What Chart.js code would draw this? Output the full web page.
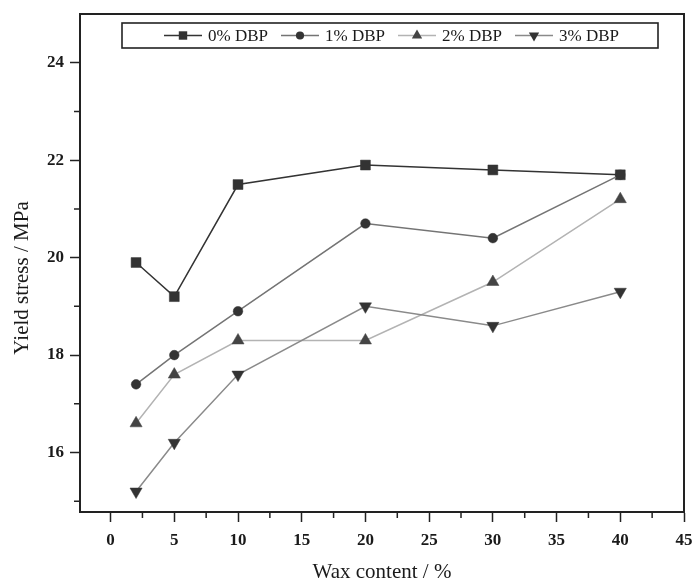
<!DOCTYPE html>
<html>
<head>
<meta charset="utf-8">
<script src="https://cdn.jsdelivr.net/npm/chart.js@4.4.1/dist/chart.umd.min.js"></script>
<style>
  html, body { margin: 0; padding: 0; background: #ffffff; }
  #wrap { width: 697px; height: 583px; }
</style>
</head>
<body>
<div id="wrap"><canvas id="c" width="697" height="583"></canvas></div>
<script>
// Wax content (%) on the x axis
const waxContent = [2, 5, 10, 20, 30, 40];

// Yield stress (MPa) for each DBP loading
const dbp0 = [19.9, 19.2, 21.5, 21.9, 21.8, 21.7];
const dbp1 = [17.4, 18.0, 18.9, 20.7, 20.4, 21.7];
const dbp2 = [16.6, 17.6, 18.3, 18.3, 19.5, 21.2];
const dbp3 = [15.2, 16.2, 17.6, 19.0, 18.6, 19.3];

const seriesLabels = ['0% DBP', '1% DBP', '2% DBP', '3% DBP'];

// Axis ticks
const xTicks = [0, 5, 10, 15, 20, 25, 30, 35, 40, 45];
const xMinorTicks = [2.5, 7.5, 12.5, 17.5, 22.5, 27.5, 32.5, 37.5, 42.5];
const yTicks = [16, 18, 20, 22, 24];
const yMinorTicks = [15, 17, 19, 21, 23];

const xTitle = 'Wax content / %';
const yTitle = 'Yield stress / MPa';

const AXIS = '#222222';
const TEXT = '#1a1a1a';
const SERIF = "'Liberation Serif', 'DejaVu Serif', serif";

const styles = [
  { line: '#333333', marker: '#333333', shape: 'rect',     radius: 7.0, rotation: 0 },
  { line: '#747474', marker: '#333333', shape: 'circle',   radius: 4.8, rotation: 0 },
  { line: '#b3b3b3', marker: '#444444', shape: 'triangle', radius: 7.0, rotation: 0 },
  { line: '#8a8a8a', marker: '#333333', shape: 'triangle', radius: 7.0, rotation: 180 }
];

const seriesValues = [dbp0, dbp1, dbp2, dbp3];

const datasets = seriesValues.map((vals, i) => ({
  label: seriesLabels[i],
  data: waxContent.map((x, j) => ({ x: x, y: vals[j] })),
  borderColor: styles[i].line,
  borderWidth: 1.5,
  backgroundColor: styles[i].marker,
  pointBackgroundColor: styles[i].marker,
  pointBorderColor: styles[i].marker,
  pointBorderWidth: 0.5,
  pointStyle: styles[i].shape,
  pointRadius: styles[i].radius,
  pointRotation: styles[i].rotation,
  pointHoverRadius: styles[i].radius,
  tension: 0,
  fill: false,
  order: 4 - i
}));

// Marker drawing shared by the legend
function drawMarker(ctx, shape, x, y, r, rotation) {
  ctx.beginPath();
  if (shape === 'rect') {
    const s = Math.SQRT1_2 * r;
    ctx.rect(x - s, y - s, 2 * s, 2 * s);
  } else if (shape === 'circle') {
    ctx.arc(x, y, r, 0, Math.PI * 2);
  } else {
    const rad = (rotation || 0) * Math.PI / 180;
    for (let k = 0; k < 3; k++) {
      const a = rad - Math.PI / 2 + k * 2 * Math.PI / 3;
      const px = x + Math.cos(a) * r;
      const py = y + Math.sin(a) * r;
      if (k === 0) ctx.moveTo(px, py); else ctx.lineTo(px, py);
    }
    ctx.closePath();
  }
  ctx.fill();
}

const decorations = {
  id: 'decorations',
  afterDraw(chart) {
    const ctx = chart.ctx;
    const area = chart.chartArea;
    const xs = chart.scales.x;
    const ys = chart.scales.y;
    ctx.save();

    // top and right frame
    ctx.strokeStyle = AXIS;
    ctx.lineWidth = 2;
    ctx.beginPath();
    ctx.moveTo(area.left, area.top);
    ctx.lineTo(area.right, area.top);
    ctx.lineTo(area.right, area.bottom);
    ctx.stroke();

    // minor ticks, pointing outward
    ctx.lineWidth = 1.5;
    ctx.beginPath();
    xMinorTicks.forEach(v => {
      const px = xs.getPixelForValue(v);
      ctx.moveTo(px, area.bottom);
      ctx.lineTo(px, area.bottom + 6);
    });
    yMinorTicks.forEach(v => {
      const py = ys.getPixelForValue(v);
      ctx.moveTo(area.left, py);
      ctx.lineTo(area.left - 6, py);
    });
    ctx.stroke();

    // y axis title, rotated
    ctx.save();
    ctx.translate(22, (area.top + area.bottom) / 2 + 15);
    ctx.rotate(-Math.PI / 2);
    ctx.font = '21px ' + SERIF;
    ctx.fillStyle = TEXT;
    ctx.textAlign = 'center';
    ctx.textBaseline = 'middle';
    ctx.fillText(yTitle, 0, 0);
    ctx.restore();

    // legend box inside the plot
    const boxL = area.left + 42, boxR = area.right - 26;
    const boxT = area.top + 9, boxB = area.top + 34;
    ctx.lineWidth = 1.6;
    ctx.strokeStyle = AXIS;
    ctx.strokeRect(boxL, boxT, boxR - boxL, boxB - boxT);

    const cy = (boxT + boxB) / 2;
    const step = 117;
    ctx.font = '17px ' + SERIF;
    ctx.textBaseline = 'middle';
    ctx.textAlign = 'left';
    chart.data.datasets.forEach((ds, i) => {
      const st = styles[i];
      const cx = boxL + 61 + i * step;
      ctx.strokeStyle = st.line;
      ctx.lineWidth = 1.5;
      ctx.beginPath();
      ctx.moveTo(cx - 19, cy);
      ctx.lineTo(cx + 19, cy);
      ctx.stroke();
      ctx.fillStyle = st.marker;
      drawMarker(ctx, st.shape, cx, cy, st.radius * 0.85, st.rotation);
      ctx.fillStyle = TEXT;
      ctx.fillText(ds.label, cx + 25, cy + 1);
    });
    ctx.restore();
  }
};

new Chart(document.getElementById('c'), {
  type: 'line',
  data: { datasets: datasets },
  plugins: [decorations],
  options: {
    responsive: false,
    animation: false,
    devicePixelRatio: 1,
    layout: { padding: { left: 0, top: 14, right: 13, bottom: 0 } },
    plugins: {
      legend: { display: false },
      tooltip: { enabled: false }
    },
    scales: {
      x: {
        type: 'linear',
        min: -2.4,
        max: 45,
        afterBuildTicks: s => { s.ticks = xTicks.map(v => ({ value: v })); },
        afterFit: s => { s.height = 71; s.paddingLeft = 0; s.paddingRight = 0; },
        border: { display: true, color: AXIS, width: 2 },
        grid: { display: true, drawOnChartArea: false, drawTicks: true, tickLength: 10, color: AXIS, tickColor: AXIS, tickWidth: 1.5 },
        ticks: { color: TEXT, padding: 8, maxRotation: 0, font: { family: SERIF, size: 17, weight: 'bold' } },
        title: { display: true, text: xTitle, color: TEXT, padding: { top: 0, bottom: 0 }, font: { family: SERIF, size: 21, weight: 'normal', lineHeight: 1.0 } }
      },
      y: {
        type: 'linear',
        min: 14.78,
        max: 25,
        afterBuildTicks: s => { s.ticks = yTicks.map(v => ({ value: v })); },
        afterFit: s => { s.width = 80; s.paddingTop = 0; s.paddingBottom = 0; },
        border: { display: true, color: AXIS, width: 2 },
        grid: { display: true, drawOnChartArea: false, drawTicks: true, tickLength: 10, color: AXIS, tickColor: AXIS, tickWidth: 1.5 },
        ticks: { color: TEXT, padding: 6, font: { family: SERIF, size: 17, weight: 'bold' } },
        title: { display: false }
      }
    }
  }
});
</script>
</body>
</html>
